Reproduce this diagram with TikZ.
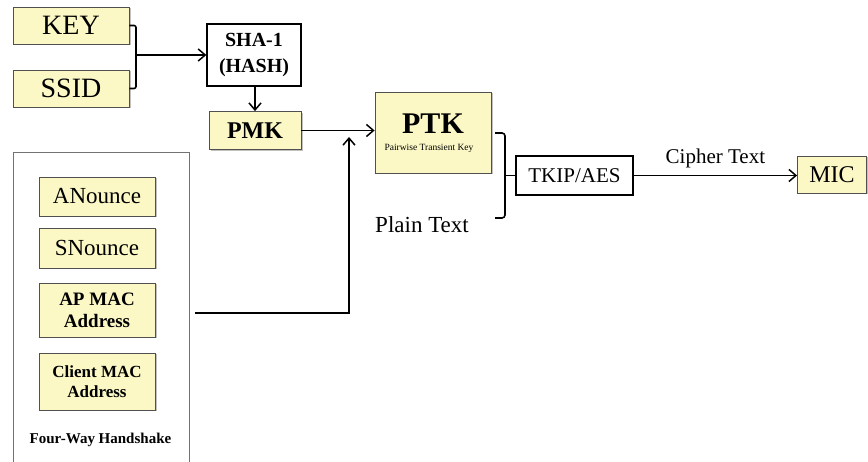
\documentclass[tikz,border=0pt]{standalone}
\usepackage{fontspec}
\setmainfont{Liberation Serif}
\usetikzlibrary{arrows.meta,shadows}
\definecolor{boxyellow}{RGB}{251,248,198}
\definecolor{boxedge}{RGB}{80,80,80}
\newcommand{\fsz}[2]{\fontsize{#1}{#2}\selectfont}
\begin{document}
\begin{tikzpicture}[x=1pt,y=-1pt,
  ybox/.style={draw=boxedge, fill=boxyellow, line width=0.8pt, inner sep=0pt, align=center,
    drop shadow={shadow xshift=1.5pt, shadow yshift=-1.5pt, opacity=0.35, fill=black!70}},
  wbox/.style={draw=black, fill=white, line width=1.3pt, inner sep=0pt, align=center},
  conn/.style={draw=black, line width=1.6pt},
  arr/.style={conn, -{Straight Barb[length=7pt,width=12pt,line width=1.5pt]}},
  lbl/.style={inner sep=0pt, align=center}]
\useasboundingbox (0,0) rectangle (868,462);
\clip (0,0) rectangle (868,462);

% top-left inputs
\node[ybox, minimum width=116pt, minimum height=37pt, font=\fsz{28}{30}] (key) at (71,25.5) {KEY};
\node[ybox, minimum width=116pt, minimum height=37pt, font=\fsz{28}{30}] (ssid) at (71,88.5) {SSID};
\node[wbox, minimum width=94pt, minimum height=62pt, font=\fsz{20}{26}\bfseries] (sha) at (254,55) {SHA-1\\(HASH)};
\node[ybox, minimum width=92pt, minimum height=38pt, font=\fsz{24}{26}\bfseries] (pmk) at (255,130.5) {PMK};
\node[ybox, minimum width=116pt, minimum height=81pt] (ptk) at (433,132.5) {};
\node[lbl, font=\fsz{30}{31}\bfseries] (ptkt) at (433,124) {PTK};
\node[lbl, font=\fsz{9.5}{10}] (ptks) at (429,148) {Pairwise Transient Key};
\node[wbox, minimum width=117pt, minimum height=39pt, font=\fsz{21}{23}] (tkip) at (574.5,175.5) {TKIP/AES};
\node[ybox, minimum width=69pt, minimum height=37pt, font=\fsz{24}{26}] (mic) at (832,174.5) {MIC};
\node[lbl, font=\fsz{23}{25}] (plain) at (422,225) {Plain Text};

% four-way handshake container
\node[draw=black!55, line width=0.8pt, minimum width=176pt, minimum height=330pt, inner sep=0pt] (hs) at (101,317) {};
\node[ybox, minimum width=116pt, minimum height=39pt, font=\fsz{23}{25}] (anon) at (97,196.5) {ANounce};
\node[ybox, minimum width=116pt, minimum height=40pt, font=\fsz{23}{25}] (snon) at (97,248) {SNounce};
\node[ybox, minimum width=116pt, minimum height=54pt, font=\fsz{19}{22}\bfseries] (apmac) at (97,310) {AP MAC\\Address};
\node[ybox, minimum width=116pt, minimum height=57pt, font=\fsz{17}{20}\bfseries] (clmac) at (97,381.5) {Client MAC\\Address};
\node[lbl, font=\fsz{15}{16}\bfseries] (hst) at (100.5,440) {Four-Way Handshake};

% KEY/SSID bracket to SHA-1
\coordinate (kb) at (136,55);
\draw[conn, rounded corners=2pt] (key.east) -- (kb |- key.east) -- (kb |- ssid.east) -- (ssid.east);
\draw[arr] (kb) -- (sha.west);
% SHA-1 to PMK
\draw[arr] (sha.south -| pmk.north) -- (pmk.north);
% PMK to PTK
\draw[arr] (pmk.east) -- (ptk.west |- pmk.east);
% handshake to join point
\coordinate (hsout) at (195,313);
\coordinate (join) at (349,137);
\draw[arr] (hsout) -| (join);
% brace PTK / Plain text to TKIP
\coordinate (bt) at (495,133);
\coordinate (bb) at (495,218);
\coordinate (bm) at (505,175.5);
\draw[conn, rounded corners=3pt] (bt) -- (bm |- bt) -- (bm |- bb) -- (bb);
\draw[conn] (bm) -- (tkip.west);
% TKIP to MIC
\draw[arr] (tkip.east) -- node[lbl, above=7pt, font=\fsz{21}{23}] (ciph) {Cipher Text} (mic.west |- tkip.east);
\end{tikzpicture}
\end{document}
